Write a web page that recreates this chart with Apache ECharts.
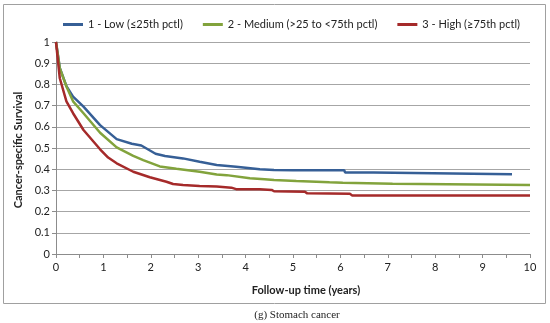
<!DOCTYPE html>
<html>
<head>
<meta charset="utf-8">
<script src="https://cdn.jsdelivr.net/npm/echarts@6/dist/echarts.min.js"></script>
<style>
html,body{margin:0;padding:0;background:#fff;}
#chart{width:550px;height:323px;}
</style>
</head>
<body>
<div id="chart"></div>
<script>
var seriesNames = ['1 - Low (≤25th pctl)', '2 - Medium (>25 to <75th pctl)', '3 - High (≥75th pctl)'];

var lowT = [0, 0.08, 0.22, 0.36, 0.58, 0.93, 1.28, 1.6, 1.8, 2.1, 2.3, 2.68, 3.03, 3.39, 3.8, 4.3, 4.6, 5.0, 6.08, 6.1, 6.7, 6.72, 9.62];
var lowS = [1, 0.878, 0.792, 0.742, 0.695, 0.608, 0.542, 0.52, 0.512, 0.473, 0.462, 0.451, 0.435, 0.42, 0.412, 0.40, 0.396, 0.395, 0.395, 0.385, 0.385, 0.376, 0.376];

var medT = [0, 0.08, 0.22, 0.36, 0.58, 0.93, 1.28, 1.63, 1.84, 2.19, 2.54, 3.03, 3.39, 3.6, 4.09, 4.4, 4.6, 5.07, 5.77, 6.05, 6.07, 7.1, 7.12, 10];
var medS = [1, 0.876, 0.79, 0.72, 0.664, 0.572, 0.503, 0.463, 0.443, 0.413, 0.402, 0.388, 0.375, 0.372, 0.357, 0.353, 0.349, 0.344, 0.338, 0.336, 0.331, 0.331, 0.325, 0.325];

var highT = [0, 0.08, 0.22, 0.36, 0.58, 0.93, 1.1, 1.28, 1.63, 1.98, 2.33, 2.47, 2.68, 3.03, 3.39, 3.7, 3.8, 4.3, 4.55, 4.6, 5.25, 5.3, 6.2, 6.25, 10];
var highS = [1, 0.829, 0.72, 0.664, 0.585, 0.494, 0.455, 0.428, 0.388, 0.362, 0.341, 0.330, 0.325, 0.321, 0.318, 0.313, 0.306, 0.305, 0.302, 0.296, 0.294, 0.286, 0.284, 0.276, 0.276];

var colors = ['#365f96', '#82a33c', '#a52a2a'];

function pairs(t, s) { return t.map(function (v, i) { return [v, s[i]]; }); }

var FONT = 'Lato';
var chart = echarts.init(document.getElementById('chart'), null, {renderer: 'canvas'});
var mk = function (i, t, s) {
  return {
    name: seriesNames[i], type: 'line', data: pairs(t, s), showSymbol: false, symbol: 'none',
    lineStyle: {color: colors[i], width: 2.5}, itemStyle: {color: colors[i]}, animation: false
  };
};
chart.setOption({
  animation: false,
  textStyle: {fontFamily: FONT},
  grid: {left: 56, right: 20, top: 42, bottom: 69},
  legend: {
    top: 14, left: 58, itemWidth: 20, itemHeight: 3, itemGap: 20,
    icon: 'rect',
    textStyle: {fontFamily: FONT, fontSize: 11, color: '#222'},
    data: seriesNames
  },
  xAxis: {
    type: 'value', min: 0, max: 10, interval: 1,
    axisLine: {show: true, lineStyle: {color: '#8c8c8c', width: 1}},
    axisTick: {show: true, length: 4, inside: false, lineStyle: {color: '#8c8c8c'}},
    minorTick: {show: true, splitNumber: 2, length: 4, lineStyle: {color: '#8c8c8c'}},
    splitLine: {show: false},
    axisLabel: {fontFamily: FONT, fontSize: 11, color: '#222', margin: 8}
  },
  yAxis: {
    type: 'value', min: 0, max: 1, interval: 0.1,
    axisLine: {show: true, lineStyle: {color: '#8c8c8c', width: 1}},
    axisTick: {show: true, length: 4, lineStyle: {color: '#8c8c8c'}},
    splitLine: {show: true, lineStyle: {color: '#a6a6a6', width: 1}},
    axisLabel: {fontFamily: FONT, fontSize: 11, color: '#222', margin: 6,
      formatter: function (v) { return String(Math.round(v * 10) / 10); }}
  },
  graphic: [
    {type: 'rect', shape: {x: 3.5, y: 4.5, width: 542, height: 299}, style: {fill: 'none', stroke: '#a0a0a0', lineWidth: 1}, silent: true, z: -1},
    {type: 'text', x: 18, y: 150, rotation: Math.PI / 2, style: {text: 'Cancer-specific Survival', font: 'bold 11px ' + FONT, fill: '#222', textAlign: 'center', textVerticalAlign: 'middle'}},
    {type: 'text', x: 306, y: 290, style: {text: 'Follow-up time (years)', font: 'bold 11px ' + FONT, fill: '#222', textAlign: 'center', textVerticalAlign: 'middle'}},
    {type: 'text', x: 297, y: 315, style: {text: '(g) Stomach cancer', font: '11px "Liberation Serif"', fill: '#222', textAlign: 'center', textVerticalAlign: 'middle'}}
  ],
  series: [mk(0, lowT, lowS), mk(1, medT, medS), mk(2, highT, highS)]
});
</script>
</body>
</html>
